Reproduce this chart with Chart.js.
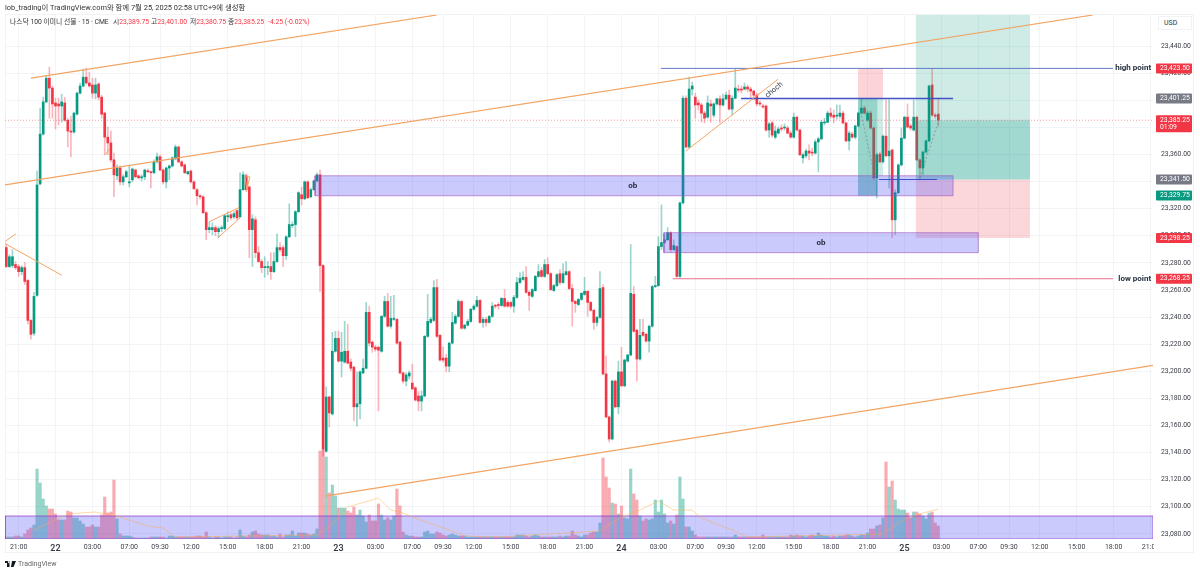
<!DOCTYPE html>
<html>
<head>
<meta charset="utf-8">
<script src="https://cdn.jsdelivr.net/npm/chart.js@4"></script>
<style>
  html, body { margin: 0; padding: 0; background: #fff; width: 1200px; height: 574px; overflow: hidden; }
  body { font-family: Roboto, "Noto Sans CJK KR", sans-serif; color: #333; position: relative; }
  canvas { position: absolute; left: 0; top: 0; }
  .t { position: absolute; font-size: 6.8px; line-height: 10px; white-space: nowrap; z-index: 2; }
  .r { color: #f23645; }
  #frame { position: absolute; left: 5px; top: 14px; width: 1189px; height: 539px; border: 1px solid #f1f2f5; box-sizing: border-box; }
  #mask { position: absolute; left: 1154px; top: 541px; width: 14px; height: 11px; background: #fff; z-index: 1; }
  #usd { position: absolute; left: 1158px; top: 16px; width: 34px; height: 14px; border: 1px solid #f1f2f5; box-sizing: border-box; background: #fff; font-size: 7px; line-height: 13px; padding-left: 5px; z-index: 2; }
</style>
</head>
<body>
<div id="frame"></div>
<canvas id="myChart" width="1200" height="574"></canvas>
<div id="mask"></div>
<div id="usd">USD</div>
<div class="t" style="left:5px;top:3px;font-size:7.4px">lob_trading이 TradingView.com와 함께 7월 25, 2025 02:58 UTC+9에 생성함</div>
<div class="t" style="left:10px;top:17px">나스닥 100 이미니 선물 · 15 · CME</div>
<div class="t" style="left:113px;top:17px"><span>시</span><span class="r">23,389.75</span></div>
<div class="t" style="left:151px;top:17px"><span>고</span><span class="r">23,401.00</span></div>
<div class="t" style="left:190px;top:17px"><span>저</span><span class="r">23,380.75</span></div>
<div class="t" style="left:228px;top:17px"><span>종</span><span class="r">23,385.25</span></div>
<div class="t r" style="left:268px;top:17px">-4.25 (-0.02%)</div>
<svg style="position:absolute;left:5px;top:561px" width="11" height="6" viewBox="0 0 11 6"><path d="M0 0h4.5v6H2V2H0zM5 1a1 1 0 1 0 0 .1zM7 0h4L8.5 6H6z" fill="#131722"/></svg>
<div class="t" style="left:18px;top:559px;font-size:7px;color:#666">TradingView</div>
<script>
// prices are stored as points above 23,000
const base = 23000

const opens = [
291.25,277.25,278,278.75,277.25,273.5,276.5,267,237.5,228,
256,338.25,375,398.75,416.25,409,398,397.25,395.75,398,
385.25,377.25,376.5,389.75,405.25,410.5,417,412.75,411.25,405.25,
412,402.25,390.5,372.75,368.5,356,344.25,350,339.75,343.5,
339,341.25,348.5,344.25,342.75,343.5,347.75,347.25,346.5,354.5,
358.25,348.5,339.75,350,351.5,356.75,365.5,354.5,352.25,345.75,
347.75,339.75,334,329.5,328.75,317,304.5,304.5,306,303,
305.25,305.25,314,315.5,314,318.5,314,334,344.25,336,
304.5,311.75,287.5,281,276.5,276.5,277.25,273.5,281,291.25,
291.25,285.25,299.25,307.5,308.25,317.75,330.25,327.25,339.75,328.75,
334,340.5,345,278,141,181,168.5,214.75,224.25,207.5,
206.75,214.75,206.75,203,173.75,176,198.75,202.25,243.5,221.5,
217.75,217.75,214.75,240.5,251.5,233.25,238.25,238.25,221.5,198.75,
192.75,196.5,191.25,187.75,181.75,178,181.75,225.75,236,237.5,
261.75,226.5,209.75,209.75,203.75,220.75,235.5,240.5,251.5,231.75,
234,236.75,245.75,248,252.25,236,238.25,236,240.5,248.5,
249.25,248.5,253.75,250.75,250.75,248,254.5,265.5,267.75,269.25,
258.25,255.25,259.5,270,274.25,270,278.75,272,259.5,263.25,
272,265.5,271.25,273.5,261,251.5,249.25,253,256.75,259,
250.75,245,236,239.75,261.75,198,166.25,150,192.75,173.75,
199.5,189.25,207.5,212,256.75,230.25,209,228.75,227.25,222.25,
233.25,262.5,263.25,292,295,297,302.25,289.75,292,270,
324.25,401.5,365.5,408.25,402.25,398,396.5,390.5,387.5,397.25,
389,397.25,401,396.5,401,403.75,393.5,401.5,408.25,408.25,
408.25,409.75,408.25,406.75,403.75,398,395.75,395.75,378,383.25,
372.75,375.75,379.5,379.5,379.5,375.75,372.75,387.5,378,357.5,
359,362.5,361.75,361,369.25,371.5,383.25,383.75,390.5,389,
388.25,388.25,390.5,383.25,370,375,372.75,381,390.5,394.25,
385.25,390.5,379.5,342.75,360.25,354.5,373.5,359,363.25,311.75,
331.75,352.25,372,387.5,381,378,387.5,356,350,361.75,
370,411.25,389,389.75
]
const closes = [
277.25,284.5,284.5,276.5,273.5,276.5,266.25,237.5,227.25,255.25,
337.5,375,398.75,416.25,409,397.25,395.75,395.75,398.75,385.25,
377.25,376.5,390.5,405.25,410.5,417,412.75,410.5,405.25,411.25,
402.25,389.75,372.75,368.5,356,345,350,339.75,343.5,347.25,
339.75,349.25,343.5,342.75,343.5,348.5,347.25,346.5,354.5,358.25,
348.5,339.75,350,351.5,357.5,365.5,354.5,351.5,346.5,347.25,
339.75,334.75,329.5,328.75,317,304.5,306,306,303,305.25,
306,314.75,314.75,313.25,316.25,313.25,334,345,334,304.5,
312.5,287.5,281,276.5,277.25,277.25,273.5,281,291.25,289.75,
285.25,299.25,308.25,308.25,317.75,331.75,327.25,339.75,328,334,
340.5,345,278,142.5,181,169.25,214.75,224.25,207.5,214,
214.75,206,202.25,173.75,176,199.5,202.25,243.5,220.75,217.75,
216.25,215.5,240.5,251.5,233.25,239,239,220.75,198.75,192.75,
197.25,198.75,187,178.75,178,181.75,225.75,236.75,238.25,261.75,
225.75,208.25,208.25,203.75,220.75,236,240.5,251.5,231.75,234,
236.75,245.75,248,252.25,236,238.25,236,240.5,248,248,
248.5,253.75,248,248,248,254.5,265.5,268.5,269.25,258.25,
256,260.25,270,273.5,270,278.75,272,260.25,263.25,271.25,
265.5,272,273.5,261,251.5,250,253,257.5,259,250.75,
245,236,239.75,261,198,166.25,150,192.75,173.75,199.5,
189.25,208.25,212,257.5,229.5,209,226.5,226.5,222.25,233.25,
262.5,263.25,292,295,297,302.25,289.75,292.75,270,324.25,
401.5,365.5,408.25,410.5,396.5,396.5,390.5,386.75,398,395.75,
397.25,401,396.5,401,403.75,393.5,401.5,409,407.5,407.5,
409.75,408.25,406.75,403.75,397.25,397.25,395,378,382.5,374.25,
377.25,378.75,378.75,380.25,375.75,372.75,387.5,378,359.75,359.75,
362.5,361,361,369.25,371.5,383.75,383.75,390.5,388.25,387.5,
389,390.5,383.25,370,375.75,372.75,381,390.5,394.25,390.5,
390.5,379.5,342.75,359.75,354.5,373.5,359,362.5,311.75,331.75,
352.25,372,387.5,380.25,379.5,387.5,356,350,361.75,370,
410.5,389,388.25,385.25
]
const highs = [
293.5,286,289.75,281,278.75,278,280.25,267.75,238.25,258.25,
347.75,394.25,402.25,418,424.5,410.5,401.5,401.5,404.5,402.25,
386.75,388.25,391.25,406,412.75,423,423.75,420.75,416.25,416.25,
412.75,403.75,391.25,380.25,377.25,361,352.25,351.5,345,348.5,
352.25,350,349.25,345,345,349.25,349.25,347.75,356,361,
359.75,349.25,350.75,352.25,358.25,367,366.25,355.25,353,347.75,
348.5,340.5,334.75,330.25,329.5,317.75,310.25,309.5,307.5,306.75,
307.5,315.5,317.75,317,317.75,319.25,346.5,347.25,345.75,336.75,
315.5,314,292,282.5,284.5,281,287.5,287.5,301.5,295,
292.75,300,323.5,310.25,318.5,332.5,336,340.5,340.5,335.25,
341.25,346.5,348.5,278.75,188.5,181.75,228.75,229.5,229.5,228.75,
236.75,234.75,209,203.75,199.5,200.25,209,250.75,248,222.25,
219.25,218.5,241.25,255.25,257.5,255.25,256,239,222.25,199.5,
198.75,200.25,205.25,188.5,185,185.5,226.5,256.75,239.75,267,
267.75,227.25,217.75,212.5,221.5,243.5,242,253,252.25,234.75,
238.25,246.5,249.25,255.25,253,239.75,239.75,241.25,250.75,249.25,
250.75,254.5,260.25,252.25,251.5,256,269.25,272.75,273.5,277.25,
259.5,261,270.75,278.75,276.5,282.5,283.75,272.75,264,272,
275,279.5,281,274.25,264,252.25,253.75,258.25,269.25,259.5,
251.5,245.75,240.5,273.5,264,211.25,167,193.5,193.5,207.5,
217.75,209,212.5,293.5,262.5,231,238.25,238.25,228,234,
263.25,270,299.25,322.75,300.75,306,303,297,292.75,325,
403.25,403.25,417,413.5,405.25,400.25,398,392,403.25,400.25,
398,401.5,403.25,404.5,406,407.5,403.25,423.5,411.25,410.5,
412.75,411.25,409.75,407.5,405.25,399.5,397.25,396.5,383.75,384.5,
381,380.25,381.75,382.5,381,377.25,390.5,388.25,378.75,361,
364,367,364.75,370.75,372.75,385.25,386.75,392,394.25,392.75,
396.5,396.5,392,383.75,377.25,376.5,381.75,391.25,401.5,395.75,
392,392,380.25,361,361.75,374.25,400.25,400.25,364,334,
353,379.5,388.25,397.25,382.5,400.25,388.25,356.75,362.5,370.75,
411.25,423.5,390.5,401
]
const lows = [
276.5,276.5,276.5,275,270,271.25,264,234.75,223.75,226.5,
255.25,337.5,374.25,398,386.75,386.75,378.75,381.75,383.75,384.5,
365.5,358.25,375.75,389,404.5,409.75,412,409.75,401.5,401,
400.25,386.75,359.75,359.75,354.5,328.75,341.25,337.5,337.5,342.75,
336,339.75,342.75,342,340.5,341.25,346.5,335.25,345.75,353.75,
347.75,338.25,335.25,341.25,350.75,356,353.75,350.75,345.75,345,
339,334,322.75,327.25,316.25,297,302.25,300.75,300,298.5,
303,304.5,310.25,311.75,312.5,311.75,313.25,333.25,332.5,283.75,
277.25,283.75,280.25,272.75,269.25,271.25,267.75,272.75,280.25,288.25,
277.25,282.5,298.5,306,299.25,317,322.75,326.5,327.25,328,
333.25,339.75,259,137.25,140.25,158.75,167.75,214,206.75,195.75,
206,205.25,200.25,163.25,159.5,164.75,198,201.75,218.5,214,
214.75,170.75,214,239.75,232.5,231.75,237.5,220,198,191.25,
189.25,194.25,186.25,178,170.75,170.75,181,225,235.5,236.75,
225,207.5,206.75,199.5,199.5,220,234.75,239.75,231,231,
233.25,236,245,247.25,235.5,232.5,233.25,235.5,239.75,246.5,
245.75,248,247.25,247.25,246.5,243.5,253.75,264.75,267,257.5,
245,254.5,259,269.25,269.25,269.25,271.25,259.5,259,262.5,
264,264.75,270.75,260.25,233.25,243.5,248.5,252.25,256,240.5,
244.25,231,233.25,239,197.25,165.5,147.75,149.25,173,168.5,
188.5,188.5,206.75,211.25,228.75,192.75,208.25,225.75,221.5,214,
232.5,261.75,262.5,289.75,294.25,296.5,288.25,289,269.25,269.25,
323.5,364.75,364.75,403.75,386.75,392.75,383.75,383.25,386.75,383.75,
387.5,396.5,383.25,395.75,400.25,392.75,389,401,406,405.25,
407.5,406,402.25,400.25,395.75,395.75,394.25,377.25,372.75,372.75,
371.5,375,377.25,378,375,372,372,377.25,359,353.75,
357.5,356,359,360.25,347.25,370.75,381.75,383.25,386.75,383.25,
386,386.75,382.5,369.25,363.25,372,371.5,380.25,389.75,389.75,
384.5,378.75,341.25,328,353.75,353.75,358.25,335.25,298.5,300.75,
331,351.5,371.5,379.5,378,377.25,355.25,341.25,345,361,
369.25,388.25,386.75,380.75
]
// volume in hundreds of contracts
const volumes = [
2,2,2,3,3,2,5,9,11,14,
70,56,40,33,30,30,25,19,19,19,
28,27,21,21,18,15,12,12,14,12,
12,24,42,26,27,59,20,5,3,3,
3,2,1,1,1,1,1,2,2,2,
2,2,1,3,3,2,2,2,2,2,
2,2,3,3,2,7,2,1,2,2,
1,2,2,2,1,2,9,3,2,4,
7,8,5,4,4,4,3,3,2,5,
2,4,4,8,3,6,6,6,5,4,
5,10,88,89,82,46,54,43,31,31,
31,28,26,32,24,29,23,17,24,18,
18,35,24,19,21,19,23,50,33,7,
4,3,3,2,2,2,7,8,5,5,
7,6,4,3,4,5,4,3,3,3,
2,2,2,2,2,2,2,2,2,2,
2,2,2,2,2,2,4,4,4,3,
2,3,4,3,2,2,2,2,2,2,
3,2,3,3,8,4,3,2,4,4,
6,7,7,16,81,62,51,36,35,25,
33,21,20,70,45,39,23,18,20,19,
20,39,27,39,25,16,18,15,24,62,
40,12,12,8,4,2,2,2,2,2,
2,2,2,2,2,2,2,4,2,2,
2,2,2,2,2,2,4,2,2,2,
2,2,2,2,2,4,3,4,3,3,
2,3,4,3,6,4,3,3,2,3,
2,3,3,4,4,3,2,3,4,4,
6,10,10,13,14,21,77,52,58,39,
30,29,29,26,21,27,27,25,23,20,
26,27,16,13
]
const volMaBars = [9,20,24,29,36,46,51,55,101,106,111,121,125,129,133,144,149,160,193,200,206,212,217,223,226,236,241,285,292,298,303]
const volMaVals = [9,25,26,27,23,13,11,2,4,15,32,41,29,26,21,9,3,2,8,22,29,38,29,29,21,9,2,5,20,26,30]

const xTickBars = [4,16,28,40,50,60,72,84,96,108,120,132,142,152,164,176,188,200,212,224,234,244,256,268,280,292,304,316,326,336,348,360,372]
const xTickNames = ['21:00','22','03:00','07:00','09:30','12:00','15:00','18:00','21:00','23','03:00','07:00','09:30','12:00','15:00','18:00','21:00','24','03:00','07:00','09:30','12:00','15:00','18:00','21:00','25','03:00','07:00','09:30','12:00','15:00','18:00','21:00']
const priceTicks = [23080,23100,23120,23140,23160,23180,23200,23220,23240,23260,23280,23300,23320,23340,23360,23380,23400,23420,23440]

const tagPrices = [23423.5,23401.25,23385.25,23341.5,23329.75,23298.25,23268.25]
const tagTexts = ['23,423.50','23,401.25','23,385.25','23,341.50','23,329.75','23,298.25','23,268.25']
const tagColors = ['#f23645','#787b86','#f23645','#787b86','#089981','#f23645','#f23645']

// drawings, [bar, price]
const upperChannel = [[8,23416.25],[140,23462.9]]
const middleChannel = [[-0.42,23337.5],[353.3,23462.9]]
const lowerChannel = [[103.6,23107.9],[373.4,23204.5]]
const leftUp = [[-0.4,23295.75],[3.15,23301.5]]
const leftDown = [[-0.4,23294.25],[18.1,23270.75]]
const smallUp = [[32.2,23359.75],[33.7,23364.75]]
const wedgeTop = [[65.9,23310.25],[75.6,23320.75]]
const wedgeBottom = [[68.8,23298.5],[76,23313.25]]
const flagMark = [[77.6,23343.5],[79.2,23343.5],[78.2,23334],[77.6,23343.5]]
const risingLine = [[220.9,23362.5],[250.9,23415.5]]
const highLine = [[212.8,23423.5],[359.8,23423.5]]
const lowLine = [[216.7,23268.25],[359.8,23268.25]]
const chochLine = [[238.9,23401.25],[307.8,23401.25]]
const entryLine = [[283.7,23341.5],[302.6,23341.5]]
const lastPriceLine = [[-0.42,23385.25],[372.8,23385.25]]
const pathOne = [[277.5,23394.25],[282.4,23342.75]]
const pathTwo = [[297,23342.75],[303,23383.75]]

// boxes, [bar from, bar to, price low, price high]
const obOne = [100.4,307.8,23329.5,23344.25]
const obTwo = [213.8,316,23287.5,23302.25]
const bigProfitTop = [295.7,332.8,23385.25,23462.9]
const bigProfitLow = [295.7,332.8,23341.5,23385.25]
const bigLoss = [295.7,332.8,23298.25,23341.5]
const smallLoss = [276.9,285,23401.25,23423.5]
const smallProfit = [276.9,283.2,23329.5,23401.25]
const smallProfitPale = [283.2,285,23344.25,23401.25]
const volumeBand = [-0.42,372.8,0,23]

const red = '#f23645'
const green = '#089981'
const isUp = opens.map((o, i) => closes[i] >= o)

function seg(points, color, width, dash, axis) {
    return {
        type: 'line',
        data: points.map(p => ({x: p[0], y: p[1]})),
        borderColor: color,
        borderWidth: width,
        borderDash: dash || [],
        pointRadius: 0,
        yAxisID: axis || 'y',
        order: 1,
        fill: false,
        tension: 0
    }
}

function box(b, fill, border, axis, order) {
    return {
        type: 'line',
        data: [{x: b[0], y: b[2]}, {x: b[1], y: b[2]}, {x: b[1], y: b[3]}, {x: b[0], y: b[3]}, {x: b[0], y: b[2]}],
        borderColor: border,
        borderWidth: border === 'transparent' ? 0 : 1,
        backgroundColor: fill,
        fill: 'shape',
        pointRadius: 0,
        yAxisID: axis || 'y',
        order: order || 3,
        tension: 0
    }
}

const orange = '#f2a462'
const obFill = 'rgba(80,80,245,0.3)'
const obEdge = 'rgba(160,80,185,0.6)'

const annotate = {
    id: 'annotate',
    afterDatasetsDraw(chart) {
        const {ctx, chartArea} = chart
        const xs = chart.scales.x
        const ys = chart.scales.y
        ctx.save()
        ctx.textBaseline = 'middle'

        // price tags on the axis
        tagPrices.forEach((p, i) => {
            const y = ys.getPixelForValue(p)
            const two = p === 23385.25
            ctx.fillStyle = tagColors[i]
            ctx.beginPath()
            ctx.roundRect(chartArea.right + 3, y - 5, 36, two ? 17 : 10, 1)
            ctx.fill()
            ctx.fillStyle = '#fff'
            ctx.font = '6.8px Roboto'
            ctx.textAlign = 'left'
            ctx.fillText(tagTexts[i], chartArea.right + 7, y)
            if (two) ctx.fillText('01:09', chartArea.right + 7, y + 7.5)
        })

        ctx.fillStyle = '#1e2a3a'
        ctx.font = 'bold 8px Roboto'
        ctx.textAlign = 'right'
        ctx.fillText('high point', xs.getPixelForValue(372.2), ys.getPixelForValue(23423.5))
        ctx.fillText('low point', xs.getPixelForValue(372.2), ys.getPixelForValue(23268.25))
        ctx.textAlign = 'center'
        ctx.fillText('ob', xs.getPixelForValue(203.7), ys.getPixelForValue(23336.75))
        ctx.fillText('ob', xs.getPixelForValue(264.9), ys.getPixelForValue(23295))

        ctx.font = '7.5px Roboto'
        ctx.translate(xs.getPixelForValue(249.6), ys.getPixelForValue(23407.5))
        ctx.rotate(-40 * Math.PI / 180)
        ctx.fillText('choch', 0, 0)
        ctx.restore()
    }
}

new Chart('myChart', {
    type: 'bar',
    plugins: [annotate],
    data: {
        datasets: [
            // lines
            seg(upperChannel, orange, 1.2),
            seg(middleChannel, orange, 1.2),
            seg(lowerChannel, orange, 1.2),
            seg(leftUp, orange, 1),
            seg(leftDown, orange, 1),
            seg(smallUp, orange, 1),
            seg(wedgeTop, orange, 1),
            seg(wedgeBottom, orange, 1),
            seg(flagMark, orange, 1),
            seg(risingLine, orange, 1),
            seg(highLine, '#6478c8', 1),
            seg(lowLine, '#e8708c', 1),
            seg(chochLine, '#3f51c4', 1.5),
            seg(entryLine, '#3f51c4', 1.2),
            seg(lastPriceLine, 'rgba(242,54,69,0.5)', 1, [1, 2]),
            seg(pathOne, 'rgba(120,123,134,0.6)', 1, [2, 2]),
            seg(pathTwo, 'rgba(120,123,134,0.6)', 1, [2, 2]),
            seg(volMaBars.map((b, i) => [b, volMaVals[i]]), 'rgba(255,170,60,0.45)', 1, [], 'y1'),
            // boxes over the candles
            box(obOne, obFill, obEdge),
            box(obTwo, obFill, obEdge),
            box(volumeBand, obFill, 'rgba(140,50,200,0.7)', 'y1'),
            box(bigProfitTop, 'rgba(8,153,129,0.2)', 'transparent'),
            box(bigProfitLow, 'rgba(8,153,129,0.38)', 'transparent'),
            box(bigLoss, 'rgba(242,54,69,0.2)', 'transparent'),
            box(smallLoss, 'rgba(242,54,69,0.22)', 'transparent'),
            box(smallProfit, 'rgba(8,153,129,0.42)', 'transparent'),
            box(smallProfitPale, 'rgba(8,153,129,0.2)', 'transparent'),
            // candle bodies
            {
                data: opens.map((o, i) => ({x: i, y: [base + o, base + closes[i]]})),
                backgroundColor: isUp.map(u => u ? green : red),
                barThickness: 2,
                minBarLength: 1,
                grouped: false,
                order: 5
            },
            // wicks
            {
                data: lows.map((l, i) => ({x: i, y: [base + l, base + highs[i]]})),
                backgroundColor: isUp.map(u => u ? 'rgba(8,153,129,0.4)' : 'rgba(242,54,69,0.36)'),
                barThickness: 1,
                grouped: false,
                order: 6
            },
            // volume
            {
                data: volumes.map((v, i) => ({x: i, y: v})),
                backgroundColor: isUp.map(u => u ? 'rgba(8,153,129,0.42)' : 'rgba(242,54,69,0.42)'),
                barThickness: 2.5,
                grouped: false,
                yAxisID: 'y1',
                order: 7
            }
        ]
    },
    options: {
        responsive: false,
        animation: false,
        events: [],
        layout: {padding: {left: 5, top: 15, right: 0, bottom: 0}},
        plugins: {
            legend: {display: false},
            title: {display: false},
            tooltip: {enabled: false}
        },
        scales: {
            x: {
                type: 'linear',
                offset: false,
                min: -0.42,
                max: 372.8,
                grid: {color: '#f3f4f7', offset: false, drawTicks: false},
                border: {display: false},
                afterBuildTicks: s => { s.ticks = xTickBars.map(v => ({value: v})) },
                afterFit: s => { s.height = 35 },
                ticks: {
                    autoSkip: false,
                    maxRotation: 0,
                    padding: 4,
                    color: '#3a3e49',
                    font: c => ({family: 'Roboto', size: xTickNames[c.index] && xTickNames[c.index].length < 3 ? 9 : 7, weight: xTickNames[c.index] && xTickNames[c.index].length < 3 ? '600' : '400'}),
                    callback: (v, i) => xTickNames[i]
                }
            },
            y: {
                position: 'right',
                min: 23076.2,
                max: 23462.9,
                grid: {color: '#f3f4f7', drawTicks: false},
                border: {display: false},
                afterBuildTicks: s => { s.ticks = priceTicks.map(v => ({value: v})) },
                afterFit: s => { s.width = 47 },
                ticks: {
                    padding: 8,
                    color: '#3a3e49',
                    font: {family: 'Roboto', size: 6.8},
                    callback: v => v.toLocaleString('en-US', {minimumFractionDigits: 2})
                }
            },
            y1: {display: false, min: 0, max: 524}
        }
    }
});
</script>
</body>
</html>
